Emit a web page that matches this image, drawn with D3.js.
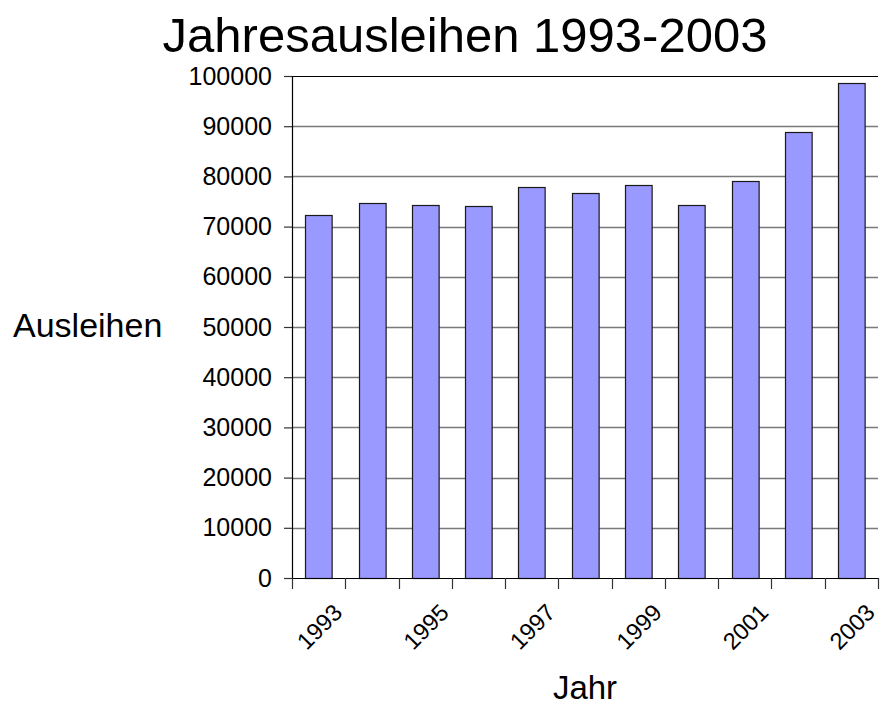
<!DOCTYPE html>
<html>
<head>
<meta charset="utf-8">
<script src="https://cdn.jsdelivr.net/npm/d3@7"></script>
<style>
  body { margin: 0; background: #fff; }
  text { font-family: "Liberation Sans", Arial, sans-serif; fill: #000; }
</style>
</head>
<body>
<div id="chart"></div>
<script>
// data
let years = ["1993","1994","1995","1996","1997","1998","1999","2000","2001","2002","2003"];
let ausleihen = [72300, 74800, 74300, 74100, 77900, 76600, 78200, 74400, 79100, 88900, 98700];
let yTicks = [0,10000,20000,30000,40000,50000,60000,70000,80000,90000,100000];
let xTickLabels = ["1993","1995","1997","1999","2001","2003"];

let svgWidth = 880;
let svgHeight = 709;

var margin = { top: 76, right: 2, bottom: 131, left: 292 };

let width = svgWidth - margin.left - margin.right;
let height = svgHeight - margin.top - margin.bottom;

let svg = d3.select("#chart")
  .append("svg")
  .attr("width", svgWidth)
  .attr("height", svgHeight);

var chartGroup = svg.append("g")
  .attr("transform", `translate(${margin.left}, ${margin.top})`);

// scales
var x = d3.scaleBand()
  .domain(years)
  .range([0, width])
  .paddingInner(0.5)
  .paddingOuter(0.25);

var y = d3.scaleLinear()
  .domain([0, 100000])
  .range([height, 0]);

// gridlines
chartGroup.append("g")
  .selectAll("line")
  .data(yTicks.filter(d => d > 0))
  .enter()
  .append("line")
  .attr("x1", 0)
  .attr("x2", width)
  .attr("y1", d => Math.round(y(d)) + 0.5)
  .attr("y2", d => Math.round(y(d)) + 0.5)
  .attr("stroke", d => d === 100000 ? "#000" : "#7a7a7a")
  .attr("stroke-width", d => d === 100000 ? 1.2 : 1.4);

// bars
chartGroup.selectAll("rect")
  .data(years)
  .enter()
  .append("rect")
  .attr("x", d => Math.round(x(d)) + 0.5)
  .attr("y", (d, i) => Math.round(y(ausleihen[i])) + 0.5)
  .attr("width", x.bandwidth())
  .attr("height", (d, i) => height - Math.round(y(ausleihen[i])))
  .attr("fill", "#9999ff")
  .attr("stroke", "#1a1a1a")
  .attr("stroke-width", 1.2);

// y axis
var leftAxis = d3.axisLeft(y)
  .tickValues(yTicks)
  .tickFormat(d3.format("d"))
  .tickSize(8)
  .tickPadding(12);

var yAxisG = chartGroup.append("g").call(leftAxis);
yAxisG.select(".domain").attr("stroke", "#000").attr("stroke-width", 1.2);
yAxisG.selectAll(".tick line").attr("stroke", "#333").attr("stroke-width", 1.2);
yAxisG.selectAll(".tick text")
  .attr("font-size", 25)
  .attr("font-family", "Liberation Sans, Arial, sans-serif")
  .attr("fill", "#000");

// x axis line + ticks at category boundaries
chartGroup.append("line")
  .attr("x1", 0).attr("x2", width)
  .attr("y1", height + 0.5).attr("y2", height + 0.5)
  .attr("stroke", "#000")
  .attr("stroke-width", 1.2);

chartGroup.append("g")
  .selectAll("line")
  .data(d3.range(years.length + 1))
  .enter()
  .append("line")
  .attr("x1", i => Math.round(i * x.step()) + 0.5)
  .attr("x2", i => Math.round(i * x.step()) + 0.5)
  .attr("y1", height)
  .attr("y2", height + 11)
  .attr("stroke", "#333")
  .attr("stroke-width", 1.2);

// rotated year labels
chartGroup.append("g")
  .selectAll("text")
  .data(xTickLabels)
  .enter()
  .append("text")
  .attr("text-anchor", "end")
  .attr("font-size", 23.5)
  .attr("transform", d => `translate(${x(d) + x.bandwidth() / 2 + 25}, ${height + 36}) rotate(-45)`)
  .text(d => d);

// title
svg.append("text")
  .attr("x", 465)
  .attr("y", 52)
  .attr("text-anchor", "middle")
  .attr("font-size", 49)
  .text("Jahresausleihen 1993-2003");

// axis titles
svg.append("text")
  .attr("x", 13)
  .attr("y", 337)
  .attr("font-size", 34)
  .text("Ausleihen");

svg.append("text")
  .attr("x", margin.left + width / 2)
  .attr("y", 699)
  .attr("text-anchor", "middle")
  .attr("font-size", 33)
  .text("Jahr");
</script>
</body>
</html>
